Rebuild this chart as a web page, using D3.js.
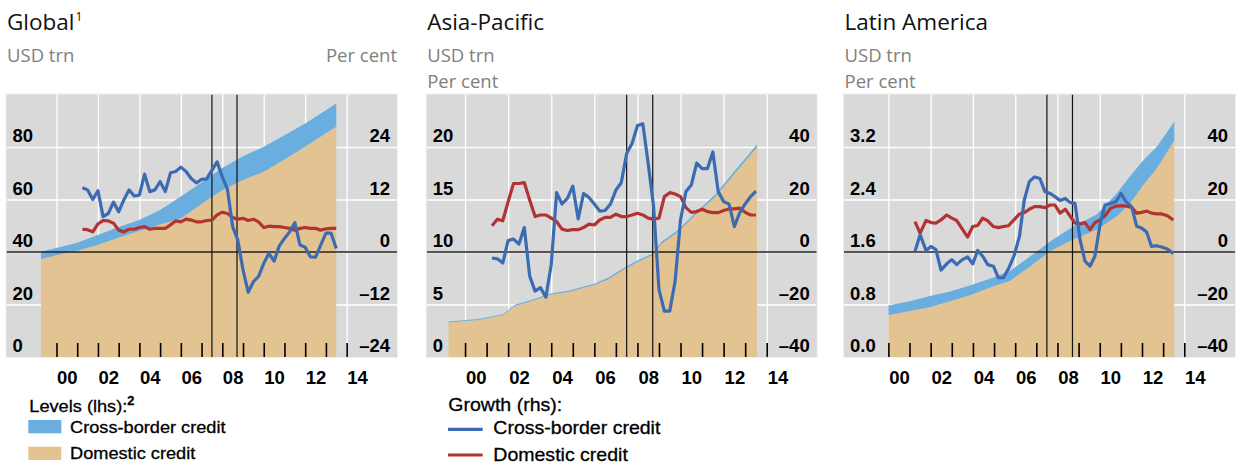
<!DOCTYPE html>
<html><head><meta charset="utf-8">
<script src="https://cdn.jsdelivr.net/npm/d3@7"></script>
<style>body{margin:0;background:#fff}svg{display:block}</style>
</head><body>
<svg id="c" width="1236" height="465"></svg>
<script>
// ---------------- DATA ----------------
const panelTitles = ["Global", "Asia-Pacific", "Latin America"];
const titleNotes = ["1", "", ""];
const xLabelYears = [2000, 2002, 2004, 2006, 2008, 2010, 2012, 2014];
const xLabels = ["00", "02", "04", "06", "08", "10", "12", "14"];
const crisisDates = [2007.5, 2008.71];

const lhsTicks1 = [0, 20, 40, 60, 80];
const lhsLabels1 = ["0", "20", "40", "60", "80"];
const rhsTicks1 = [-24, -12, 0, 12, 24];
const rhsLabels1 = ["\u201324", "\u201312", "0", "12", "24"];
const lhsTicks2 = [0, 5, 10, 15, 20];
const lhsLabels2 = ["0", "5", "10", "15", "20"];
const rhsTicks2 = [-40, -20, 0, 20, 40];
const rhsLabels2 = ["\u201340", "\u201320", "0", "20", "40"];
const lhsTicks3 = [0, 0.8, 1.6, 2.4, 3.2];
const lhsLabels3 = ["0.0", "0.8", "1.6", "2.4", "3.2"];
const rhsTicks3 = [-40, -20, 0, 20, 40];
const rhsLabels3 = ["\u201340", "\u201320", "0", "20", "40"];

// Levels (lhs), USD trn
const levelYears1 = [1999.25, 2000, 2001, 2002, 2003, 2004, 2005, 2006, 2007, 2008, 2009, 2010, 2011, 2012, 2013, 2013.5];
const domesticLevel1 = [37.2, 38.8, 40.5, 42.7, 45.5, 48.0, 50.5, 52.8, 58.3, 63.5, 67.4, 70.6, 75.2, 80.1, 85.2, 87.7];
const crossLevel1 = [2.9, 2.7, 3.0, 3.8, 4.0, 4.2, 5.5, 8.3, 8.2, 8.5, 9.1, 9.5, 9.3, 8.9, 8.8, 8.9];

const levelYears2 = [1999.23, 2000.62, 2001.75, 2002.32, 2003.1, 2004.02, 2004.8, 2006.03, 2006.65, 2007.47, 2008.04, 2008.71, 2009.13, 2009.9, 2010.67, 2011.6, 2012.5, 2013.55];
const domesticLevel2 = [3.28, 3.53, 3.97, 4.86, 5.33, 5.96, 6.18, 6.88, 7.41, 8.45, 9.08, 9.71, 10.82, 11.92, 13.5, 15.24, 17.44, 19.97];
const crossLevel2 = [0.1, 0.1, 0.1, 0.12, 0.12, 0.12, 0.12, 0.13, 0.15, 0.15, 0.15, 0.15, 0.18, 0.2, 0.2, 0.22, 0.25, 0.28];

const levelYears3 = [2000, 2001.02, 2001.97, 2002.92, 2003.86, 2004.97, 2005.75, 2006.7, 2007.65, 2008.75, 2009.85, 2010.8, 2011.43, 2012.06, 2012.69, 2013.53];
const domesticLevel3 = [0.636, 0.70, 0.76, 0.85, 0.94, 1.08, 1.16, 1.38, 1.61, 1.79, 1.94, 2.14, 2.34, 2.62, 2.87, 3.30];
const crossLevel3 = [0.15, 0.15, 0.17, 0.15, 0.15, 0.13, 0.15, 0.15, 0.15, 0.20, 0.23, 0.35, 0.41, 0.38, 0.33, 0.29];

// Growth (rhs), per cent
const quarters = [2001.25, 2001.5, 2001.75, 2002, 2002.25, 2002.5, 2002.75, 2003, 2003.25, 2003.5, 2003.75, 2004, 2004.25, 2004.5, 2004.75, 2005, 2005.25, 2005.5, 2005.75, 2006, 2006.25, 2006.5, 2006.75, 2007, 2007.25, 2007.5, 2007.75, 2008, 2008.25, 2008.5, 2008.75, 2009, 2009.25, 2009.5, 2009.75, 2010, 2010.25, 2010.5, 2010.75, 2011, 2011.25, 2011.5, 2011.75, 2012, 2012.25, 2012.5, 2012.75, 2013, 2013.25, 2013.5];
const crossGrowth1 = [14.7, 14.2, 12.0, 14.0, 8.1, 8.8, 11.4, 9.2, 11.9, 14.2, 12.8, 13.0, 17.8, 13.8, 14.2, 16.1, 13.8, 18.1, 18.4, 19.4, 18.4, 16.8, 15.8, 16.6, 16.7, 18.7, 20.6, 17.2, 14.3, 5.8, 2.7, -4.1, -9.2, -6.8, -5.6, -2.6, -0.3, -2.1, 1.4, 3.1, 4.6, 6.7, 1.6, 1.1, -1.1, -1.2, 1.6, 4.3, 4.3, 0.8];
const domGrowth1 = [5.2, 5.1, 4.6, 6.4, 7.2, 7.1, 6.6, 5.0, 4.6, 5.2, 5.2, 5.6, 5.8, 5.2, 5.4, 5.4, 5.4, 6.2, 7.1, 6.9, 7.5, 7.3, 6.9, 6.9, 7.2, 7.3, 8.5, 9.1, 8.8, 7.9, 7.5, 7.7, 7.2, 7.5, 6.9, 5.6, 5.9, 5.8, 5.8, 5.6, 5.4, 5.0, 5.4, 5.6, 5.4, 5.4, 5.0, 5.3, 5.4, 5.4];
const crossGrowth2 = [-2.3, -2.6, -4.2, 4.4, 4.9, 3.0, 9.3, -9.2, -14.9, -13.6, -17.2, -4.8, 22.6, 18.3, 20.4, 25.1, 12.6, 22.3, 20.8, 18.3, 15.6, 15.8, 18.3, 23.6, 26.4, 37.5, 41.3, 48.2, 48.8, 33.7, 17.3, -14.3, -22.5, -22.5, -11.1, 12.2, 23.0, 25.5, 33.9, 31.8, 31.8, 38.1, 23.0, 19.2, 18.3, 9.7, 15.0, 18.3, 21.1, 23.2];
const domGrowth2 = [10.0, 12.5, 11.9, 19.2, 26.1, 26.1, 26.4, 19.8, 13.5, 14.1, 14.1, 12.9, 11.6, 8.7, 8.2, 8.5, 8.5, 9.3, 10.6, 10.3, 12.2, 13.2, 13.2, 14.4, 13.5, 13.5, 14.1, 14.8, 14.1, 12.9, 12.5, 12.9, 21.1, 22.6, 22.1, 21.1, 16.9, 15.1, 15.4, 16.3, 15.4, 15.0, 15.0, 15.8, 16.4, 16.4, 16.7, 15.1, 14.1, 14.1];
const growthYears3 = [2001.26, 2001.5, 2001.78, 2002.02, 2002.25, 2002.49, 2002.76, 2003.0, 2003.23, 2003.5, 2003.75, 2003.99, 2004.23, 2004.46, 2004.7, 2004.97, 2005.2, 2005.44, 2005.68, 2005.94, 2006.2, 2006.43, 2006.67, 2006.91, 2007.17, 2007.41, 2007.65, 2007.88, 2008.12, 2008.37, 2008.59, 2008.83, 2009.07, 2009.3, 2009.54, 2009.77, 2010.01, 2010.25, 2010.52, 2010.77, 2011.0, 2011.24, 2011.51, 2011.75, 2011.98, 2012.22, 2012.45, 2012.69, 2012.93, 2013.2, 2013.48];
const crossGrowth3 = [0.3, 6.6, 0.6, 2.1, 0.9, -6.9, -4.5, -2.9, -4.8, -2.9, -1.9, -4.5, 0.6, -1.6, -4.8, -5.4, -9.8, -9.8, -6.4, -1.6, 5.9, 19.8, 26.8, 28.6, 28.0, 23.0, 22.3, 21.1, 19.6, 20.4, 18.9, 18.5, 4.7, -3.5, -5.4, -1.6, 10.3, 17.9, 18.5, 19.2, 22.3, 19.2, 17.3, 9.8, 9.1, 7.6, 2.1, 2.4, 1.9, 1.1, -0.6];
const domGrowth3 = [11.6, 7.2, 12.0, 11.2, 11.0, 12.2, 14.1, 12.9, 12.0, 8.7, 5.7, 9.7, 10.1, 12.9, 11.9, 9.7, 9.3, 9.7, 10.0, 12.2, 14.5, 15.0, 16.3, 17.3, 17.3, 16.9, 17.9, 17.9, 14.8, 16.3, 13.8, 11.0, 10.7, 11.2, 8.5, 11.2, 12.2, 13.8, 16.7, 17.5, 17.7, 17.5, 17.0, 14.8, 15.1, 15.6, 14.8, 14.5, 14.5, 13.8, 12.2];

const legendLevelsTitle = "Levels (lhs):";
const legendGrowthTitle = "Growth (rhs):";
const legendItems = ["Cross-border credit", "Domestic credit"];

// ---------------- STYLE / LAYOUT ----------------
const C = { bg: "#d9d9d9", tan: "#e2c391", band: "#6aaee0", blue: "#3b6cb3", red: "#b23432", grid: "#ffffff", unit: "#808080" };
const TOP = 94.5, BOTTOM = 357;

const panels = [
  { left: 6.5, right: 397, xDom: [1997.588, 2016.43], yL: [0, 100], yR: [-24, 36],
    lt: lhsTicks1, ll: lhsLabels1, rt: rhsTicks1, rl: rhsLabels1,
    lvY: levelYears1, dom: domesticLevel1, cross: crossLevel1,
    gY: quarters, cg: crossGrowth1, dg: domGrowth1, perCentRight: true },
  { left: 426.7, right: 816.7, xDom: [1998.22, 2016.32], yL: [0, 25], yR: [-40, 60],
    lt: lhsTicks2, ll: lhsLabels2, rt: rhsTicks2, rl: rhsLabels2,
    lvY: levelYears2, dom: domesticLevel2, cross: crossLevel2,
    gY: quarters, cg: crossGrowth2, dg: domGrowth2, perCentRight: false },
  { left: 844, right: 1235, xDom: [1997.90, 2016.40], yL: [0, 4], yR: [-40, 60],
    lt: lhsTicks3, ll: lhsLabels3, rt: rhsTicks3, rl: rhsLabels3,
    lvY: levelYears3, dom: domesticLevel3, cross: crossLevel3,
    gY: growthYears3, cg: crossGrowth3, dg: domGrowth3, perCentRight: false }
];

const svg = d3.select("#c");
const TICKFONT = "'Liberation Sans', Arial, Helvetica, sans-serif";
const TITLEFONT = "'Open Sans', 'Noto Sans', sans-serif";

panels.forEach((p, i) => {
  const g = svg.append("g");
  const x = d3.scaleLinear().domain(p.xDom).range([p.left, p.right]);
  const yL = d3.scaleLinear().domain(p.yL).range([BOTTOM, TOP]);
  const yR = d3.scaleLinear().domain(p.yR).range([BOTTOM, TOP]);
  const clipId = "clip" + i;
  svg.append("clipPath").attr("id", clipId).append("rect")
    .attr("x", p.left).attr("y", TOP).attr("width", p.right - p.left).attr("height", BOTTOM - TOP);

  // background
  g.append("rect").attr("x", p.left - 0.5).attr("y", TOP - 0.5)
    .attr("width", p.right - p.left + 1).attr("height", BOTTOM - TOP + 1)
    .attr("fill", C.bg).attr("stroke", "#efefef").attr("stroke-width", 1);

  const inner = g.append("g").attr("clip-path", `url(#${clipId})`);

  // gridlines
  const hGrid = inner.append("g").attr("transform", `translate(${p.left},0)`)
    .call(d3.axisRight(yL).tickValues(p.lt.filter(v => v !== 0)).tickSize(p.right - p.left).tickFormat(""));
  hGrid.select(".domain").remove();
  hGrid.selectAll("line").attr("stroke", C.grid).attr("stroke-width", 1.3);
  const vGrid = inner.append("g").attr("transform", `translate(0,${BOTTOM})`)
    .call(d3.axisBottom(x).tickValues(xLabelYears).tickSize(-(BOTTOM - TOP)).tickFormat(""));
  vGrid.select(".domain").remove();
  vGrid.selectAll("line").attr("stroke", C.grid).attr("stroke-width", 1.3);

  // areas
  const lv = p.lvY.map((t, k) => ({ t, dom: p.dom[k], cross: p.cross[k] }));
  inner.append("path").datum(lv).attr("fill", C.tan)
    .attr("d", d3.area().x(d => x(d.t)).y0(yL(0)).y1(d => yL(d.dom)));
  inner.append("path").datum(lv).attr("fill", C.band)
    .attr("d", d3.area().x(d => x(d.t)).y0(d => yL(d.dom)).y1(d => yL(d.dom + d.cross)));

  // zero line (rhs)
  inner.append("line").attr("x1", p.left).attr("x2", p.right)
    .attr("y1", yR(0)).attr("y2", yR(0)).attr("stroke", "#222").attr("stroke-width", 1.4);
  // crisis markers
  inner.selectAll(".crisis").data(crisisDates).enter().append("line")
    .attr("x1", d => x(d)).attr("x2", d => x(d)).attr("y1", TOP).attr("y2", BOTTOM)
    .attr("stroke", "#111").attr("stroke-width", 1.2);

  // bottom year ticks
  const yrTicks = inner.append("g").attr("transform", `translate(0,${BOTTOM})`)
    .call(d3.axisBottom(x).tickValues(d3.range(2000, 2015)).tickSize(-14).tickFormat(""));
  yrTicks.select(".domain").remove();
  yrTicks.selectAll("line").attr("stroke", "#000").attr("stroke-width", 1.6);

  // growth lines
  const gr = p.gY.map((t, k) => ({ t, c: p.cg[k], d: p.dg[k] }));
  inner.append("path").datum(gr).attr("fill", "none").attr("stroke", C.red)
    .attr("stroke-width", 3.2).attr("stroke-linejoin", "round")
    .attr("d", d3.line().x(d => x(d.t)).y(d => yR(d.d)));
  inner.append("path").datum(gr).attr("fill", "none").attr("stroke", C.blue)
    .attr("stroke-width", 3.2).attr("stroke-linejoin", "round")
    .attr("d", d3.line().x(d => x(d.t)).y(d => yR(d.c)));

  // left tick labels
  const la = g.append("g").attr("transform", `translate(${p.left + 6},0)`)
    .call(d3.axisRight(yL).tickValues(p.lt).tickSize(0).tickPadding(0).tickFormat((d, k) => p.ll[k]));
  la.select(".domain").remove();
  la.selectAll("text").attr("y", -5.5).attr("dy", 0).attr("x", 0)
    .attr("font-family", TICKFONT).attr("font-weight", "bold").attr("font-size", 18.5).attr("fill", "#000");

  // right tick labels
  const ra = g.append("g").attr("transform", `translate(${p.right - 7},0)`)
    .call(d3.axisLeft(yR).tickValues(p.rt).tickSize(0).tickPadding(0).tickFormat((d, k) => p.rl[k]));
  ra.select(".domain").remove();
  ra.selectAll("text").attr("y", -5.5).attr("dy", 0).attr("x", 0)
    .attr("font-family", TICKFONT).attr("font-weight", "bold").attr("font-size", 18.5).attr("fill", "#000");

  // x labels at mid-year
  const xa = g.append("g").attr("transform", `translate(0,${BOTTOM})`)
    .call(d3.axisBottom(x).tickValues(xLabelYears.map(v => v + 0.5)).tickSize(0).tickPadding(0)
      .tickFormat((d, k) => xLabels[k]));
  xa.select(".domain").remove();
  xa.selectAll("text").attr("y", 26.5).attr("dy", 0)
    .attr("font-family", TICKFONT).attr("font-weight", "bold").attr("font-size", 18.5).attr("fill", "#000");

  // title
  const t = svg.append("text").attr("x", p.left + 0.5).attr("y", 30)
    .attr("font-family", TITLEFONT).attr("font-size", 22.5).attr("fill", "#111").text(panelTitles[i]);
  if (titleNotes[i]) t.append("tspan").attr("dy", -9).attr("dx", 1).attr("font-size", 12).text(titleNotes[i]);

  svg.append("text").attr("x", p.left + 0.5).attr("y", 62)
    .attr("font-family", TITLEFONT).attr("font-size", 18.5).attr("fill", C.unit).text("USD trn");
  if (p.perCentRight) {
    svg.append("text").attr("x", p.right).attr("y", 62).attr("text-anchor", "end")
      .attr("font-family", TITLEFONT).attr("font-size", 18.5).attr("fill", C.unit).text("Per cent");
  } else {
    svg.append("text").attr("x", p.left + 0.5).attr("y", 88)
      .attr("font-family", TITLEFONT).attr("font-size", 18.5).attr("fill", C.unit).text("Per cent");
  }
});

// ---------------- LEGEND ----------------
const lg1 = svg.append("g").attr("stroke", "#000").attr("stroke-width", 0.3);
const sx1 = 1.07;
const lt1 = lg1.append("text").attr("transform", `translate(29.3,411.7) scale(${sx1},1)`)
  .attr("font-family", TICKFONT).attr("font-size", 17).attr("fill", "#000").text(legendLevelsTitle);
lt1.append("tspan").attr("dy", -7).attr("font-size", 12).attr("font-weight", "bold").text("2");
[C.band, C.tan].forEach((col, k) => {
  lg1.append("rect").attr("x", 28.3).attr("y", 420 + k * 26.7).attr("width", 33).attr("height", 13.3)
    .attr("fill", col).attr("stroke", "none");
  lg1.append("text").attr("transform", `translate(70,${432.7 + k * 26.6}) scale(${sx1},1)`)
    .attr("font-family", TICKFONT).attr("font-size", 17).attr("fill", "#000").text(legendItems[k]);
});

const lg2 = svg.append("g");
const sx2 = 1.05;
lg2.append("text").attr("transform", `translate(448.3,410.7) scale(${sx2},1)`)
  .attr("font-family", TICKFONT).attr("font-size", 18.6).attr("fill", "#000")
  .attr("stroke", "#000").attr("stroke-width", 0.3).text(legendGrowthTitle);
[C.blue, C.red].forEach((col, k) => {
  lg2.append("line").attr("x1", 448).attr("x2", 482.7).attr("y1", 429.3 + k * 25.7).attr("y2", 429.3 + k * 25.7)
    .attr("stroke", col).attr("stroke-width", 3.2);
  lg2.append("text").attr("transform", `translate(493.3,${434 + k * 26.7}) scale(${sx2},1)`)
    .attr("font-family", TICKFONT).attr("font-size", 18.6).attr("fill", "#000")
    .attr("stroke", "#000").attr("stroke-width", 0.3).text(legendItems[k]);
});
</script>
</body></html>
